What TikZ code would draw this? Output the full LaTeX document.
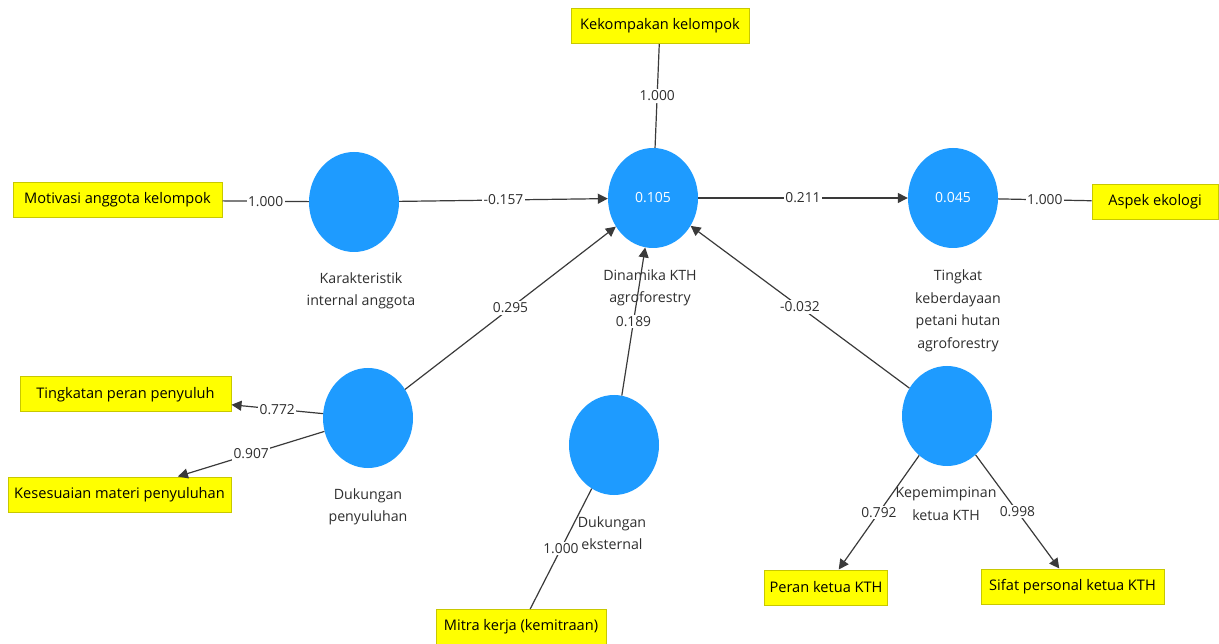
\documentclass[tikz,border=0pt]{standalone}
\usepackage{fontspec}
\setmainfont{Open Sans}
\usetikzlibrary{arrows.meta,shapes.geometric}
\definecolor{lvblue}{HTML}{1E9BFF}
\definecolor{indyel}{HTML}{FFFF00}
\definecolor{indborder}{HTML}{C8C800}
\definecolor{linegray}{HTML}{3A3A3A}
\definecolor{txtgray}{HTML}{2E2E2E}
\begin{document}
\begin{tikzpicture}[x=1pt,y=-1pt,
  lv/.style={ellipse, fill=lvblue, minimum width=90pt, minimum height=100pt, inner sep=0pt, text=white, font=\fontsize{14}{16}\selectfont},
  ind/.style={rectangle, fill=indyel, draw=indborder, line width=1pt, minimum height=35pt, inner xsep=5pt, text=black, font=\fontsize{14.6}{16}\selectfont},
  lvname/.style={align=center, text=txtgray, font=\fontsize{14.2}{22.5}\selectfont},
  conn/.style={draw=linegray, line width=1.2pt},
  arr/.style={conn, -{Triangle[length=10pt,width=10pt]}},
  wt/.style={fill=white, inner sep=1.5pt, text=txtgray, font=\fontsize{13.8}{15}\selectfont}
]
\useasboundingbox (0,0) rectangle (1219,644);

% latent variables
\node[lv] (kar) at (354,202) {};
\node[lv] (din) at (653,198) {0.105};
\node[lv] (ting) at (953,198) {0.045};
\node[lv] (dukp) at (368,418) {};
\node[lv] (duke) at (614,445) {};
\node[lv] (kep) at (947,416) {};

% latent names
\node[lvname] (karname) at (361,291) {Karakteristik\\internal anggota};
\node[lvname] (dinname) at (650,288) {Dinamika KTH\\agroforestry};
\node[lvname] (tingname) at (958,311) {Tingkat\\keberdayaan\\petani hutan\\agroforestry};
\node[lvname] (dukpname) at (368,507) {Dukungan\\penyuluhan};
\node[lvname] (dukename) at (612,533) {Dukungan\\eksternal};
\node[lvname] (kepname) at (946,504) {Kepemimpinan\\ketua KTH};

% indicators
\node[ind, minimum width=209pt] (mot) at (117.5,200) {Motivasi anggota kelompok};
\node[ind, minimum width=178pt] (kek) at (660,26) {Kekompakan kelompok};
\node[ind, minimum width=126pt] (asp) at (1155,202) {Aspek ekologi};
\node[ind, minimum width=211pt] (tpp) at (125.5,394.5) {Tingkatan peran penyuluh};
\node[ind, minimum width=223pt] (kmp) at (119.5,494.5) {Kesesuaian materi penyuluhan};
\node[ind, minimum width=170pt] (mit) at (521,627) {Mitra kerja (kemitraan)};
\node[ind, minimum width=118pt] (per) at (826,587.5) {Peran ketua KTH};
\node[ind, minimum width=183pt] (sif) at (1072.5,586.5) {Sifat personal ketua KTH};

% measurement links
\draw[conn] (mot) -- node[wt] (w1) {1.000} (kar);
\draw[conn] (kek) -- node[wt] (w2) {1.000} (din);
\draw[conn] (ting) -- node[wt] (w3) {1.000} (asp);
\draw[conn] (mit) -- node[wt] (w4) {1.000} (duke);
\draw[arr] (dukp) -- node[wt] (w5) {0.772} (tpp);
\draw[arr] (dukp) -- node[wt] (w6) {0.907} (kmp);
\draw[arr] (kep) -- node[wt] (w7) {0.792} (per);
\draw[arr] (kep) -- node[wt] (w8) {0.998} (sif);

% structural paths
\draw[arr] (kar) -- node[wt] (p1) {-0.157} (din);
\draw[arr] (din) -- node[wt] (p2) {0.211} (ting);
\draw[arr] (dukp) -- node[wt] (p3) {0.295} (din);
\draw[arr] (duke) -- node[wt] (p4) {0.189} (din);
\draw[arr] (kep) -- node[wt] (p5) {-0.032} (din);
\end{tikzpicture}
\end{document}
